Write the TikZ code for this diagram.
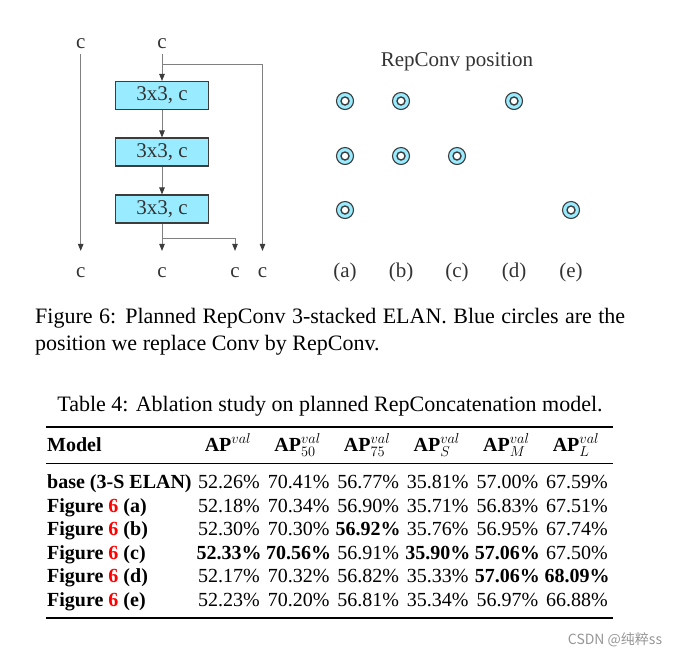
\documentclass[tikz,border=0pt]{standalone}
\usepackage{fontspec}
\setmainfont{Liberation Serif}
\newfontfamily\cjkfont{Noto Sans CJK SC}
\usetikzlibrary{arrows.meta,positioning,calc}

\definecolor{boxcyan}{RGB}{153,236,255}
\definecolor{linegray}{RGB}{128,128,128}
\definecolor{edgegray}{RGB}{60,60,60}
\definecolor{textgray}{RGB}{51,51,51}
\definecolor{marksilver}{RGB}{150,150,150}

\newcommand\diafont{\fontsize{21}{25}\selectfont}
\newcommand\capfont{\fontsize{22}{27}\selectfont}
\newcommand\tabfont{\fontsize{20}{24}\selectfont}

\tikzset{
  lbl/.style={font=\diafont, text=textgray, inner sep=2pt, anchor=base},
  convbox/.style={draw=edgegray, fill=boxcyan, line width=1.1pt, minimum width=93pt,
    minimum height=28pt, inner sep=0pt, font=\diafont, text=textgray},
  flow/.style={draw=linegray, line width=0.9pt, -{Triangle[length=7pt,width=5.5pt,color=edgegray]}},
  repc/.style={circle, draw=edgegray, fill=boxcyan, line width=1.1pt, minimum size=17pt,
    inner sep=0pt, path picture={\draw[edgegray, line width=1.4pt, fill=white]
      (path picture bounding box.center) circle (4pt);}},
  cell/.style={font=\tabfont, inner sep=0pt},
  captext/.style={font=\capfont, inner sep=0pt},
}

\begin{document}
\begin{tikzpicture}[x=1pt, y=-1pt]
  \useasboundingbox (0,0) rectangle (679,657);
  % ELAN block
  \node[lbl] (cinL) at (80.7,48.5) {c};
  \node[lbl] (cinM) at (162,48.5) {c};
  \node[convbox] (box1) at (162,95.5) {3x3, c};
  \node[convbox] (box2) at (162,152) {3x3, c};
  \node[convbox] (box3) at (162,209) {3x3, c};
  \node[lbl] (coutA) at (80.7,277.5) {c};
  \node[lbl] (coutB) at (162,277.5) {c};
  \node[lbl] (coutC) at (235,277.5) {c};
  \node[lbl] (coutD) at (262.5,277.5) {c};
  \coordinate (splitT) at (162,64);
  \coordinate (splitB) at (162,238);
  \draw[flow, shorten <=3pt, shorten >=14.5pt] (cinL) -- (coutA);
  \draw[flow, shorten <=3pt] (cinM) -- (box1);
  \draw[flow] (box1) -- (box2);
  \draw[flow] (box2) -- (box3);
  \draw[flow, shorten >=14.5pt] (box3) -- (coutB);
  \draw[flow, shorten >=14.5pt] (splitT) -| (coutD);
  \draw[flow, shorten >=14.5pt] (splitB) -| (coutC);
  % RepConv positions
  \node[lbl] (postitle) at (457,66.5) {RepConv position};
  \foreach \n/\x in {a/345, b/401, c/457, d/514, e/571}
    \node[lbl] (lab\n) at (\x,277.5) {(\n)};
  \foreach \n/\x/\y in {a/345/101, a/345/156, a/345/210, b/401/101, b/401/156,
                        c/457/156, d/514/101, e/571/210}
    \node[repc] (rc\n\y) at (\x,\y) {};
  % Figure caption
  \node[captext, anchor=base west] (figcapA) at (35,323.5)
    {\makebox[590pt][s]{Figure 6: Planned RepConv 3-stacked ELAN. Blue circles are the}};
  \node[captext, anchor=base west] (figcapB) at (35,350.5)
    {position we replace Conv by RepConv.};
  % Table
  \node[captext, anchor=base] (tabcap) at (330,411.5)
    {Table 4: Ablation study on planned RepConcatenation model.};
  \draw[line width=2pt] (46,427) -- (613,427);
  \draw[line width=1pt] (46,463) -- (613,463);
  \draw[line width=2pt] (46,618) -- (613,618);
  \node[cell, anchor=base west] (hmodel) at (47,451.5) {\textbf{Model}};
  \foreach \s [count=\c] in {{}, {_{50}}, {_{75}}, {_{S}}, {_{M}}, {_{L}}}
    \node[cell, anchor=base] (h\c) at ({228+69.6*(\c-1)},451.5) {\textbf{AP}$^{val}\s$};
  \foreach \i/\name/\va/\vb/\vc/\vd/\ve/\vf in {
      0/{base (3-S ELAN)}/52.26/70.41/56.77/35.81/57.00/67.59,
      1/{Figure \textcolor{red}{6} (a)}/52.18/70.34/56.90/35.71/56.83/67.51,
      2/{Figure \textcolor{red}{6} (b)}/52.30/70.30/\bfseries 56.92/35.76/56.95/67.74,
      3/{Figure \textcolor{red}{6} (c)}/\bfseries 52.33/\bfseries 70.56/56.91/\bfseries 35.90/\bfseries 57.06/67.50,
      4/{Figure \textcolor{red}{6} (d)}/52.17/70.32/56.82/35.33/\bfseries 57.06/\bfseries 68.09,
      5/{Figure \textcolor{red}{6} (e)}/52.23/70.20/56.81/35.34/56.97/66.88} {
    \node[cell, anchor=base west, font=\tabfont\bfseries] (row\i) at (47,{488.5+23.6*\i}) {\name};
    \foreach \v [count=\c] in {\va,\vb,\vc,\vd,\ve,\vf}
      \node[cell, anchor=base] (r\i-c\c) at ({229+69.6*(\c-1)},{488.5+23.6*\i}) {\v\%};
  }
  % watermark
  \node[font=\cjkfont\fontsize{14}{16}\selectfont, text=marksilver] (mark) at (615,640) {CSDN @纯粹ss};
\end{tikzpicture}
\end{document}
